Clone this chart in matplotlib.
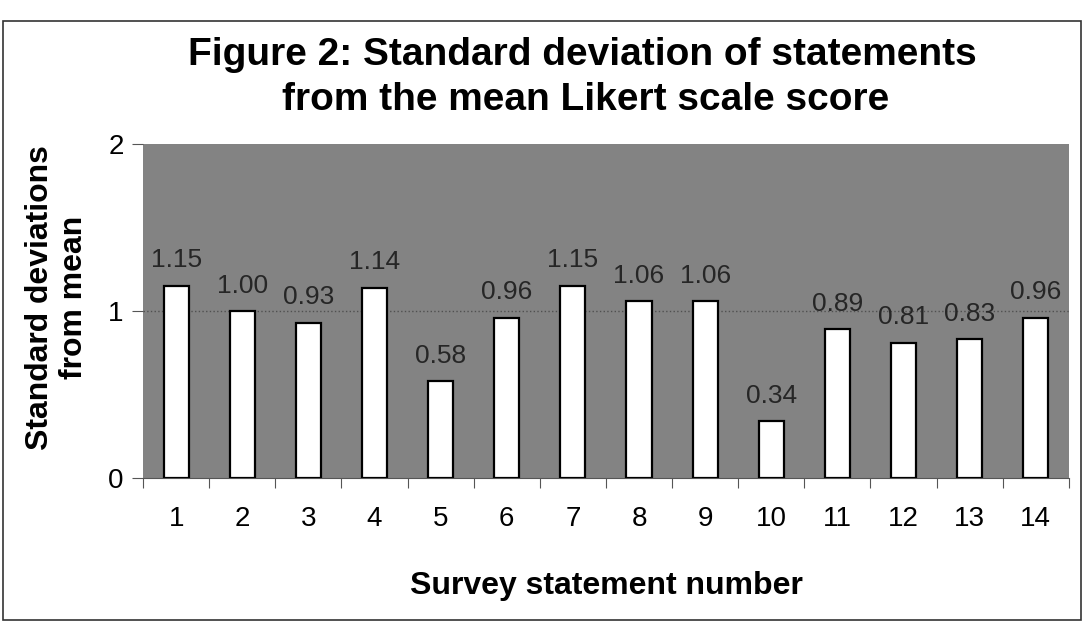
import numpy as np
import matplotlib.pyplot as plt
from matplotlib.patches import Rectangle

# --------------------------------------------------
# data
# --------------------------------------------------
statements = [1, 2, 3, 4, 5, 6, 7, 8, 9, 10, 11, 12, 13, 14]
std_dev = [1.15, 1.00, 0.93, 1.14, 0.58, 0.96, 1.15, 1.06, 1.06, 0.34, 0.89, 0.81, 0.83, 0.96]
bar_labels = ['1.15', '1.00', '0.93', '1.14', '0.58', '0.96', '1.15',
              '1.06', '1.06', '0.34', '0.89', '0.81', '0.83', '0.96']

plt.rcParams['font.family'] = ['Liberation Sans', 'DejaVu Sans']

fig = plt.figure(figsize=(10.84, 6.23), dpi=100)
fig.patch.set_facecolor('white')

# outer frame of the scanned chart
fig.add_artist(Rectangle((0.003, 0.005), 0.994, 0.962, transform=fig.transFigure,
                         fill=False, edgecolor='#333333', linewidth=1.2))

ax = fig.add_axes([0.132, 0.233, 0.854, 0.536])
ax.set_facecolor('#838383')

x = np.arange(len(statements))
ax.bar(x, std_dev, width=0.38, color='white', edgecolor='black', linewidth=1.6, zorder=3)
ax.axhline(1, color='#505050', linewidth=1.0, linestyle=':', zorder=2)

for xi, v, lab in zip(x, std_dev, bar_labels):
    ax.text(xi, v + 0.08, lab, ha='center', va='bottom', fontsize=19, color='#262626', zorder=4)

ax.set_xlim(-0.5, len(statements) - 0.5)
ax.set_ylim(0, 2)
ax.set_yticks([0, 1, 2])
ax.set_yticklabels(['0', '1', '2'], fontsize=20)

# category ticks on boundaries, labels at centres
ax.set_xticks(np.arange(-0.5, len(statements), 1.0))
ax.set_xticklabels([])
ax.set_xticks(x, minor=True)
ax.set_xticklabels([str(s) for s in statements], minor=True, fontsize=20)
ax.tick_params(axis='x', which='major', direction='out', length=7, color='#555555')
ax.tick_params(axis='x', which='minor', length=0, pad=20)
ax.tick_params(axis='y', direction='out', length=8, color='#555555', pad=6)

for side in ['top', 'right', 'left']:
    ax.spines[side].set_visible(False)
ax.spines['bottom'].set_color('#555555')

ax.set_xlabel('Survey statement number', fontsize=23, fontweight='bold', labelpad=28)
ax.set_ylabel('Standard deviations\nfrom mean', fontsize=23, fontweight='bold')
ax.yaxis.set_label_coords(-0.058, 0.54)

fig.text(0.537, 0.912, 'Figure 2: Standard deviation of statements', ha='center', va='center',
         fontsize=28, fontweight='bold')
fig.text(0.54, 0.84, 'from the mean Likert scale score', ha='center', va='center',
         fontsize=28, fontweight='bold')

fig.savefig('out.png', dpi=100)
